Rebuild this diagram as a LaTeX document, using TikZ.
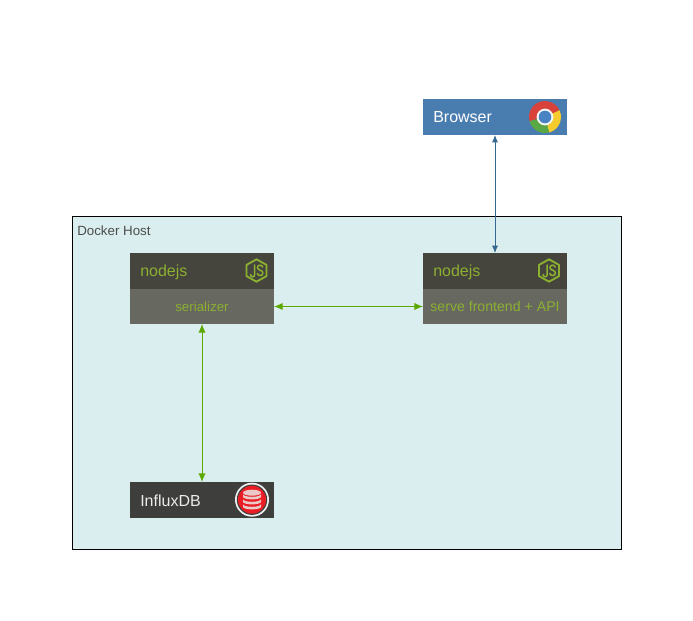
\documentclass[tikz,border=0pt]{standalone}
\usepackage{fontspec}
\setmainfont{Liberation Sans}
\usetikzlibrary{arrows.meta}
\definecolor{hostfill}{HTML}{DBEEEF}
\definecolor{darkbox}{HTML}{45443D}
\definecolor{midbox}{HTML}{676860}
\definecolor{influxbox}{HTML}{3E3E3C}
\definecolor{browserblue}{HTML}{4A7DAF}
\definecolor{arrowblue}{HTML}{33688F}
\definecolor{nodegreen}{HTML}{8CB030}
\definecolor{arrowgreen}{HTML}{5DA800}
\definecolor{chromered}{HTML}{D8423A}
\definecolor{chromeyellow}{HTML}{F5CB2E}
\definecolor{chromegreen}{HTML}{5AA845}
\definecolor{chromeblue}{HTML}{4A83C4}
\definecolor{dbred}{HTML}{EC1C24}
\definecolor{dbdisc}{HTML}{EBC9C9}
\tikzset{
  px/.style={x=0.75pt,y=-0.75pt},
  boxbase/.style={rectangle,inner sep=0pt,outer sep=0pt,minimum width=108pt},
  headbox/.style={boxbase,fill=darkbox,minimum height=27pt},
  subbox/.style={boxbase,fill=midbox,minimum height=26.25pt,text=nodegreen,font=\fontsize{10}{12}\selectfont},
  titletext/.style={inner sep=0pt,anchor=west,font=\fontsize{12}{14}\selectfont},
  bluelink/.style={draw=arrowblue,line width=0.6pt,{Latex[length=5.5pt,width=4.5pt]}-{Latex[length=5.5pt,width=4.5pt]}},
  greenlink/.style={draw=arrowgreen,line width=0.75pt,{Latex[length=6.5pt,width=5.5pt]}-{Latex[length=6.5pt,width=5.5pt]}},
}
\newcommand{\jsicon}[2]{%
  \begin{scope}[shift={(#1,#2)}]
    \draw[nodegreen,line width=1.4pt,line join=round] (0,-11.2) -- (10,-5.6) -- (10,5.6) -- (0,11.2) -- (-10,5.6) -- (-10,-5.6) -- cycle;
    \draw[nodegreen,line width=1.15pt,line cap=round] (-1.8,-5.5) -- (-1.8,4) .. controls (-1.8,7) and (-5.8,7) .. (-6,4);
    \draw[nodegreen,line width=1.15pt,line cap=round] (6.2,-3.5) .. controls (5.2,-6.2) and (0.8,-5.8) .. (1,-2.8) .. controls (1.2,0) and (6.4,-0.5) .. (6.4,2.3) .. controls (6.4,5.8) and (1.5,5.8) .. (0.8,3);
  \end{scope}}
\newcommand{\dbdisc}[1]{%
  \fill[dbdisc] (-9,#1) arc (180:0:9 and 2.6) -- (9,#1+2.6) arc (0:180:9 and 2.6) -- cycle;}
\begin{document}
\begin{tikzpicture}[px]
\useasboundingbox (0,0) rectangle (693,621);
\node[rectangle,draw=black,fill=hostfill,line width=0.75pt,inner sep=0pt,minimum width=412pt,minimum height=249.4pt] (host) at (347,382.75) {};
\node[inner sep=0pt,anchor=west,text=black!70,font=\fontsize{10}{12}\selectfont] (hostlabel) at (77,230.5) {Docker Host};

% Browser
\node[boxbase,fill=browserblue,minimum height=27pt] (browser) at (495,117) {};
\node[titletext,text=white] (browsertext) at (433,117.5) {Browser};
\begin{scope}[shift={(545,117)}]
  \fill[chromered] (0,0) -- (165:16) arc (165:335:16) -- cycle;
  \fill[chromeyellow] (0,0) -- (-25:16) arc (-25:75:16) -- cycle;
  \fill[chromegreen] (0,0) -- (75:16) arc (75:165:16) -- cycle;
  \fill[white!92!gray] (0,0) circle (8.4);
  \fill[chromeblue] (0,0) circle (6.3);
\end{scope}

% left nodejs
\node[headbox] (headA) at (202,271) {};
\node[subbox,anchor=north] (serializer) at (headA.south) {serializer};
\node[titletext,text=nodegreen] (nodeA) at (140,272.5) {nodejs};
\jsicon{256.5}{270.5}

% right nodejs
\node[headbox] (headB) at (495,271) {};
\node[subbox,anchor=north,font=\fontsize{10.6}{12}\selectfont] (serve) at (headB.south) {serve frontend + API};
\node[titletext,text=nodegreen] (nodeB) at (433,272.5) {nodejs};
\jsicon{549}{270.5}

% InfluxDB
\node[boxbase,fill=influxbox,minimum height=27pt] (influx) at (202,500) {};
\node[titletext,text=white!92!black] (influxtext) at (140,500.5) {InfluxDB};
\begin{scope}[shift={(252,499.7)}]
  \fill[white!88!gray] (0,0) circle (17);
  \fill[black!75] (0,0) circle (15.2);
  \fill[dbred] (0,0) circle (14);
  \fill[dbdisc] (0,-7) ellipse (9 and 3);
  \dbdisc{-5.5}
  \dbdisc{-0.5}
  \dbdisc{4.5}
\end{scope}

% connectors
\draw[bluelink] (browser.south) -- (headB.north);
\draw[greenlink] (serializer.east) -- (serve.west);
\draw[greenlink] (serializer.south) -- (influx.north);
\end{tikzpicture}
\end{document}
